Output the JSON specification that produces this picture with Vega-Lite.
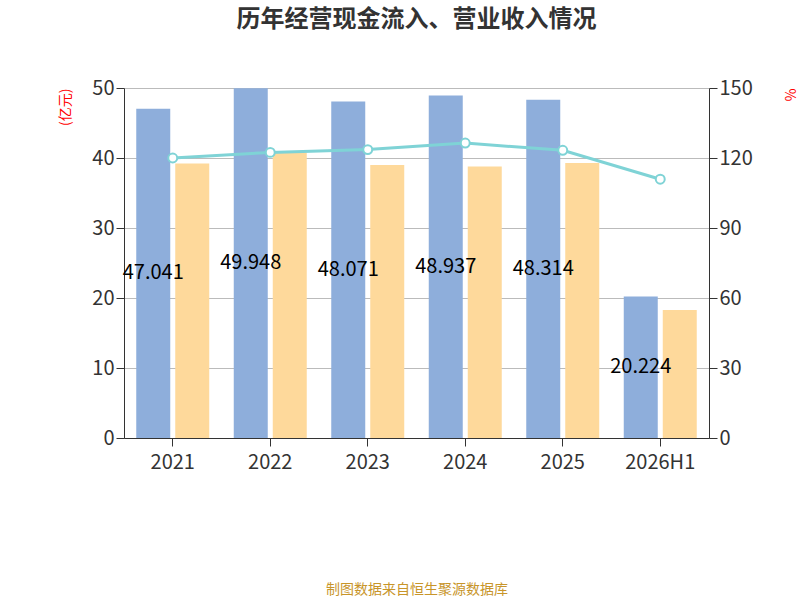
{
  "$schema": "https://vega.github.io/schema/vega-lite/v6.json",
  "width": 585,
  "height": 350,
  "padding": {"left": 58, "top": 8, "right": 40, "bottom": 5},
  "title": {"text": "历年经营现金流入、营业收入情况", "fontSize": 24, "font": "Noto Sans CJK SC", "fontWeight": "bold", "color": "#333", "offset": 46},
  "datasets": {
    "bars": [
      {"year": "2021", "s": "经营现金流入", "v": 47.041},
      {"year": "2022", "s": "经营现金流入", "v": 49.948},
      {"year": "2023", "s": "经营现金流入", "v": 48.071},
      {"year": "2024", "s": "经营现金流入", "v": 48.937},
      {"year": "2025", "s": "经营现金流入", "v": 48.314},
      {"year": "2026H1", "s": "经营现金流入", "v": 20.224},
      {"year": "2021", "s": "营业总收入", "v": 39.2},
      {"year": "2022", "s": "营业总收入", "v": 40.8},
      {"year": "2023", "s": "营业总收入", "v": 39.0},
      {"year": "2024", "s": "营业总收入", "v": 38.8},
      {"year": "2025", "s": "营业总收入", "v": 39.3},
      {"year": "2026H1", "s": "营业总收入", "v": 18.3}
    ],
    "ratio": [
      {"year": "2021", "s": "营收现金比", "r": 120.0},
      {"year": "2022", "s": "营收现金比", "r": 122.4},
      {"year": "2023", "s": "营收现金比", "r": 123.6},
      {"year": "2024", "s": "营收现金比", "r": 126.4},
      {"year": "2025", "s": "营收现金比", "r": 123.3},
      {"year": "2026H1", "s": "营收现金比", "r": 110.9}
    ]
  },
  "config": {
    "font": "Noto Sans CJK SC",
    "view": {"stroke": null},
    "axis": {"labelFontSize": 20, "labelColor": "#333", "domainColor": "#333", "tickColor": "#333", "labelOverlap": false}
  },
  "layer": [
    {
      "data": {"name": "bars"},
      "layer": [
        {
          "mark": {"type": "bar", "width": 34},
          "encoding": {
            "x": {"field": "year", "type": "nominal", "sort": null, "title": "制图数据来自恒生聚源数据库", "axis": {"labelAngle": 0, "grid": false, "tickSize": 8, "labelPadding": 6, "titleColor": "#c8952a", "titleFontSize": 14, "titleFontWeight": "normal", "titlePadding": 110}, "scale": {"paddingInner": 0, "paddingOuter": 0}},
            "xOffset": {"field": "s", "type": "nominal", "scale": {"paddingOuter": 0.4, "paddingInner": 0.3}},
            "y": {"field": "v", "type": "quantitative", "scale": {"domain": [0, 50]}, "title": "(亿元)", "axis": {"tickCount": 5, "titleColor": "red", "titleFontSize": 14, "titleFontWeight": "normal", "titleAngle": -90, "titleAlign": "right", "titleAnchor": "end", "titleBaseline": "bottom", "titleX": -52, "titleY": 0, "gridColor": "#bbb", "domain": true, "tickSize": 8}},
            "color": {"field": "s", "type": "nominal", "scale": {"domain": ["经营现金流入", "营业总收入"], "range": ["#8eaedb", "#fed99b"]}, "legend": {"orient": "bottom", "title": null, "labelFontSize": 22, "symbolType": "square", "symbolSize": 700, "labelColor": "#333", "offset": 40, "direction": "horizontal", "columnPadding": 25}}
          }
        },
        {
          "transform": [{"filter": "datum.s == '经营现金流入'"}, {"calculate": "datum.v / 2", "as": "mid"}],
          "mark": {"type": "text", "fontSize": 20, "color": "black"},
          "encoding": {
            "x": {"field": "year", "type": "nominal", "sort": null},
            "xOffset": {"field": "s", "type": "nominal"},
            "y": {"field": "mid", "type": "quantitative"},
            "text": {"field": "v", "type": "quantitative"}
          }
        }
      ]
    },
    {
      "data": {"name": "ratio"},
      "mark": {"type": "line", "color": "#7fd3d6", "strokeWidth": 3, "point": {"filled": true, "fill": "white", "stroke": "#7fd3d6", "strokeWidth": 2, "size": 80}},
      "encoding": {
        "x": {"field": "year", "type": "nominal", "sort": null},
        "y": {"field": "r", "type": "quantitative", "scale": {"domain": [0, 150]}, "title": "%", "axis": {"orient": "right", "values": [0, 30, 60, 90, 120, 150], "grid": false, "titleColor": "red", "titleFontSize": 14, "titleFontWeight": "normal", "titleAngle": 90, "titleAlign": "left", "titleAnchor": "start", "titleY": 0, "titleX": 72, "tickSize": 8}},
        "stroke": {"field": "s", "type": "nominal", "scale": {"range": ["#7fd3d6"]}, "legend": {"orient": "bottom", "title": null, "labelFontSize": 22, "labelColor": "#333", "symbolType": "stroke", "symbolStrokeWidth": 2, "symbolSize": 600, "offset": 40}}
      }
    }
  ],
  "resolve": {"scale": {"y": "independent", "color": "independent"}}
}
